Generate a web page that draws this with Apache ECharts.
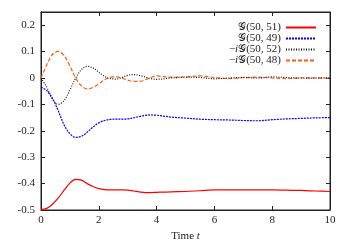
<!DOCTYPE html>
<html><head><meta charset="utf-8">
<script src="https://cdn.jsdelivr.net/npm/echarts@6/dist/echarts.min.js"></script>
<style>html,body{margin:0;padding:0;background:#fff}#c{width:349px;height:244px}</style>
</head><body><div id="c"></div>
<script>
var times = [0,0.2,0.4,0.6,0.8,1.0,1.2,1.4,1.6,1.8,2.0,2.2,2.4,2.6,2.8,3.0,3.2,3.4,3.6,3.8,4.0,4.5,5.0,5.5,6.0,6.5,7.0,7.5,8.0,8.5,9.0,9.5,10];
var g5051 = [-0.498,-0.494,-0.478,-0.454,-0.425,-0.398,-0.384,-0.387,-0.400,-0.411,-0.419,-0.423,-0.424,-0.424,-0.424,-0.425,-0.428,-0.431,-0.434,-0.434,-0.433,-0.431,-0.430,-0.427,-0.424,-0.424,-0.424,-0.424,-0.424,-0.425,-0.426,-0.428,-0.430];
var g5049 = [-0.034,-0.048,-0.078,-0.125,-0.178,-0.211,-0.225,-0.221,-0.205,-0.186,-0.170,-0.161,-0.157,-0.156,-0.156,-0.155,-0.151,-0.146,-0.142,-0.140,-0.141,-0.148,-0.152,-0.156,-0.158,-0.159,-0.161,-0.162,-0.158,-0.155,-0.153,-0.151,-0.150];
var g5052 = [0,-0.035,-0.080,-0.100,-0.085,-0.045,0.000,0.032,0.044,0.038,0.022,0.006,-0.002,-0.004,0.002,0.010,0.013,0.010,0.004,-0.002,-0.005,0.000,0.003,0.002,-0.003,0.000,0.002,0.000,0.004,0.002,-0.001,0.000,0.001];
var g5048 = [0,0.050,0.090,0.101,0.085,0.045,0.000,-0.030,-0.041,-0.036,-0.022,-0.007,0.003,0.004,0.000,-0.008,-0.013,-0.013,-0.007,0.002,0.008,0.003,0.004,0.008,0.002,-0.002,0.001,0.003,0.000,-0.002,0.001,0.000,-0.001];
var xTicks = [0,2,4,6,8,10];
var yTicks = [-0.5,-0.4,-0.3,-0.2,-0.1,0,0.1,0.2];
var yTickLabels = ['-0.5','-0.4','-0.3','-0.2','-0.1','0','0.1','0.2'];
var seriesNames = ['G(50,51)','G(50,49)','-iG(50,52)','-iG(50,48)'];
var legendLabels = ['{n|\uD835\uDCA2(50, 51)}','{n|\uD835\uDCA2(50, 49)}','{n|\u2212}{i|i}{n|\uD835\uDCA2(50, 52)}','{n|\u2212}{i|i}{n|\uD835\uDCA2(50, 48)}'];

function pairs(arr){ return times.map(function(t,i){return [t,arr[i]];}); }
var FONT = '"Liberation Serif", "DejaVu Serif", serif';
var chart = echarts.init(document.getElementById('c'), null, {renderer:'canvas'});
var axisLine = {show:true, onZero:false, lineStyle:{color:'#222', width:1}};
function xLbl(v){ var k = xTicks.indexOf(Math.round(v*1000)/1000); return k>=0 ? String(xTicks[k]) : ''; }
function yLbl(v){ var r = Math.round(v*1000)/1000; for (var k=0;k<yTicks.length;k++){ if (Math.abs(yTicks[k]-r)<1e-6) return yTickLabels[k]; } return ''; }
var styles = [
  {color:'#ff0000', type:'solid'},
  {color:'#0000ff', type:[2,1]},
  {color:'#111111', type:[1,1.5]},
  {color:'#ff5a14', type:[4,2]}
];
var data = [g5051, g5049, g5052, g5048];
chart.setOption({
  animation:false,
  backgroundColor:'#fff',
  grid:{left:41, right:19, top:12, bottom:34, show:true, borderColor:'#222', borderWidth:1, containLabel:false, outerBoundsMode:'none'},
  legend:{
    data:seriesNames, orient:'vertical', align:'right', right:27, top:17,
    itemWidth:30, itemHeight:10, itemGap:0,
    itemStyle:{opacity:0},
    formatter:function(name){ return legendLabels[seriesNames.indexOf(name)]; },
    textStyle:{fontFamily:FONT, fontSize:11, color:'#222',
      rich:{n:{fontFamily:FONT, fontSize:11, color:'#222', lineHeight:11}, i:{fontFamily:FONT, fontSize:11, fontStyle:'italic', color:'#222', lineHeight:11}}}
  },
  xAxis:[
    {type:'value', min:0, max:10, interval:2, position:'bottom',
     name:'{n|Time }{i|t}', nameLocation:'middle', nameGap:21,
     nameTextStyle:{rich:{n:{fontFamily:FONT,fontSize:11,color:'#222'}, i:{fontFamily:FONT,fontSize:11,fontStyle:'italic',color:'#222'}}},
     axisLine:axisLine, axisTick:{inside:true, length:4, lineStyle:{color:'#222'}},
     axisLabel:{formatter:xLbl, fontFamily:FONT, fontSize:11, color:'#222', margin:5},
     splitLine:{show:false}},
    {type:'value', min:0, max:10, interval:2, position:'top',
     axisLine:axisLine, axisTick:{inside:true, length:4, lineStyle:{color:'#222'}},
     axisLabel:{show:false}, splitLine:{show:false}}
  ],
  yAxis:[
    {type:'value', min:-0.5, max:0.25, interval:0.1, position:'left',
     axisLine:axisLine, axisTick:{inside:true, length:4, lineStyle:{color:'#222'}},
     axisLabel:{formatter:yLbl, fontFamily:FONT, fontSize:11, color:'#222', margin:6, showMaxLabel:false},
     splitLine:{show:false}},
    {type:'value', min:-0.5, max:0.25, interval:0.1, position:'right',
     axisLine:axisLine, axisTick:{inside:true, length:4, lineStyle:{color:'#222'}},
     axisLabel:{show:false}, splitLine:{show:false}}
  ],
  series: seriesNames.map(function(n,i){
    return {name:n, type:'line', data:pairs(data[i]), showSymbol:false, symbol:'none', smooth:0.35,
      xAxisIndex:0, yAxisIndex:0, z: 10-i,
      itemStyle:{color:styles[i].color},
      lineStyle:{color:styles[i].color, width:1.2, type:styles[i].type}};
  })
});
</script></body></html>
